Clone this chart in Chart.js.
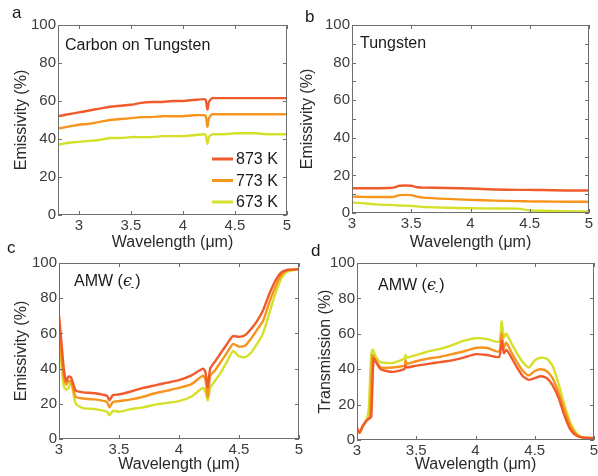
<!DOCTYPE html>
<html>
<head>
<meta charset="utf-8">
<script src="https://cdn.jsdelivr.net/npm/chart.js@4.4.0/dist/chart.umd.min.js"></script>
<style>
  body { margin: 0; background: #fff; width: 598px; height: 476px; position: relative; overflow: hidden; }
  .panel { position: absolute; }
</style>
</head>
<body>
<div class="panel" style="left:0;top:0;width:300px;height:252px"><canvas id="chartA"></canvas></div>
<div class="panel" style="left:298px;top:0;width:300px;height:252px"><canvas id="chartB"></canvas></div>
<div class="panel" style="left:0;top:236px;width:312px;height:238px"><canvas id="chartC"></canvas></div>
<div class="panel" style="left:298px;top:236px;width:300px;height:238px"><canvas id="chartD"></canvas></div>
<script>
const tempLabels = ["873 K", "773 K", "673 K"];
const yTicks = [0, 20, 40, 60, 80, 100];
const xTicks = [3, 3.5, 4, 4.5, 5];

// a: carbon on tungsten
const wlA = [2.8, 2.9, 3.0, 3.1, 3.2, 3.3, 3.4, 3.5, 3.6, 3.7, 3.8, 3.9, 4.0, 4.1, 4.2, 4.22, 4.235, 4.25, 4.28, 4.3, 4.4, 4.5, 4.6, 4.7, 4.8, 4.9, 5.0];
const carbon873 = [52, 53, 54, 55, 56, 57, 57.5, 58, 59, 59.5, 59.5, 60, 60, 60.5, 61, 60.5, 55.5, 59.5, 61.5, 61.5, 61.5, 61.5, 61.5, 61.5, 61.5, 61.5, 61.5];
const carbon773 = [45.5, 46.5, 47.5, 48, 49, 50, 50.5, 51, 51.5, 51.5, 52, 52, 52, 52.5, 52.5, 52, 46.5, 51, 53, 53, 53, 53, 53, 53, 53, 53, 53];
const carbon673 = [37, 38, 38.5, 39, 39.5, 40.5, 40.5, 41, 41, 41, 41.5, 41.5, 41.5, 42, 42.5, 42, 37.5, 41, 42.5, 42.5, 42.5, 43, 43, 43, 42.5, 42.5, 42.5];

// b: bare tungsten
const wlB = [3.0, 3.1, 3.2, 3.3, 3.35, 3.4, 3.5, 3.55, 3.6, 3.8, 4.0, 4.2, 4.4, 4.5, 4.6, 4.8, 5.0];
const tungsten873 = [13.2, 13.2, 13.2, 13.3, 13.5, 14.5, 14.5, 13.7, 13.5, 13.3, 13, 12.5, 12.3, 12.3, 12.2, 12, 12];
const tungsten773 = [8.7, 8.6, 8.5, 8.5, 8.6, 9.5, 9.5, 8.7, 8.2, 7.5, 7, 6.6, 6.3, 6.2, 6.1, 6, 6];
const tungsten673 = [5.6, 5.2, 4.6, 4.3, 4.2, 4.0, 3.8, 3.5, 3.2, 2.8, 2.5, 2.4, 2.3, 1.3, 1.2, 0.9, 0.8];

// c: AMW emissivity
const wlC = [3.0, 3.02, 3.04, 3.06, 3.08, 3.1, 3.12, 3.14, 3.2, 3.3, 3.4, 3.42, 3.45, 3.5, 3.6, 3.7, 3.8, 3.9, 4.0, 4.1, 4.2, 4.22, 4.24, 4.26, 4.3, 4.35, 4.4, 4.45, 4.5, 4.55, 4.6, 4.65, 4.7, 4.75, 4.8, 4.85, 4.9, 5.0];
const amwEmis873 = [70.5, 55, 40, 33, 35.5, 35, 31, 27.5, 26.5, 26, 24.5, 22, 25, 25.3, 27, 29, 30.5, 32, 33.5, 36, 40, 38, 29.5, 40, 44, 49, 54, 58.5, 58, 59, 62.5, 67, 73, 82, 89.5, 94.5, 96, 96.5];
const amwEmis773 = [65, 48, 35, 31, 33, 32.5, 28, 24, 23, 22.5, 21, 18, 21, 21.5, 22.5, 24, 26, 27.5, 29, 31, 36, 34, 24, 36, 39, 44, 49, 54, 52.5, 53, 57, 62, 67, 77, 86, 93, 96, 96.5];
const amwEmis673 = [62, 42, 30, 28, 29, 33, 26, 20, 17.5, 17, 15.5, 13.5, 16, 15.5, 17, 18, 19.5, 20.5, 21.5, 24, 29, 27, 22, 29, 33, 38, 44, 50, 47, 46.5, 49, 54, 60, 71, 82, 91, 95, 96.5];

// d: AMW transmission
const wlD = [3.0, 3.02, 3.05, 3.08, 3.1, 3.11, 3.12, 3.13, 3.14, 3.16, 3.2, 3.3, 3.4, 3.41, 3.42, 3.5, 3.6, 3.7, 3.8, 3.9, 4.0, 4.1, 4.2, 4.22, 4.24, 4.26, 4.3, 4.35, 4.4, 4.45, 4.5, 4.55, 4.6, 4.65, 4.7, 4.75, 4.8, 4.85, 4.9, 5.0];
const amwTrans873 = [7, 4, 8, 11, 12, 12.5, 13, 30, 46, 44, 40, 38.5, 40, 42, 41, 42, 43, 44, 45, 46.5, 48.5, 48, 47, 56, 49, 51, 47, 41, 36, 34, 35, 36, 35, 31, 24, 14, 6, 2.5, 1.5, 1];
const amwTrans773 = [5, 4.5, 8, 11, 12, 14, 30, 48, 47, 45, 41, 41, 42, 45, 43, 44.5, 46, 47, 48.5, 50, 52, 52, 50, 60, 52, 55, 50, 44, 39, 36.5, 39, 40, 39, 35, 27, 17, 8, 3, 1.5, 1];
const amwTrans673 = [5, 4, 8, 11, 18, 35, 48, 51, 50, 47, 44, 43.5, 46, 48, 46.5, 48, 50, 51.5, 53.5, 56, 57.5, 57, 55.5, 67, 58, 60, 55, 49, 44, 41, 45, 46.5, 46, 42, 32, 20, 10, 4, 1.5, 1];

const lineColors = ["#f15a2b", "#f7941e", "#d5e02b"];
const FONT = '"Liberation Sans", Arial, sans-serif';
const frameColor = "#6e6e6e";

// box round the plot, inward ticks, panel letter, note and legend
const framePlugin = {
  id: "frame",
  afterDraw(chart, args, o) {
    const { ctx, chartArea: a, scales } = chart;
    ctx.save();
    ctx.strokeStyle = frameColor;
    ctx.lineWidth = 1;
    ctx.strokeRect(a.left + 0.5, a.top + 0.5, a.right - a.left - 1, a.bottom - a.top - 1);
    ctx.beginPath();
    const tl = 4;
    scales.x.ticks.forEach((t) => {
      const px = Math.round(scales.x.getPixelForValue(t.value)) + 0.5;
      ctx.moveTo(px, a.bottom); ctx.lineTo(px, a.bottom - tl);
      ctx.moveTo(px, a.top); ctx.lineTo(px, a.top + tl);
    });
    const yVals = [];
    if (o.minorY) {
      for (let v = 0; v <= 100; v += o.minorY) yVals.push(v);
    } else {
      scales.y.ticks.forEach((t) => yVals.push(t.value));
    }
    yVals.forEach((v) => {
      const py = Math.round(scales.y.getPixelForValue(v)) + 0.5;
      ctx.moveTo(a.left, py); ctx.lineTo(a.left + tl, py);
      ctx.moveTo(a.right, py); ctx.lineTo(a.right - tl, py);
    });
    ctx.stroke();

    // panel letter
    ctx.fillStyle = "#1a1a1a";
    ctx.font = "17px " + FONT;
    ctx.textBaseline = "alphabetic";
    ctx.textAlign = "left";
    ctx.fillText(o.letter, o.letterX, o.letterY);

    // note inside plot
    const nx = a.left + o.noteDx, ny = a.top + o.noteDy;
    ctx.font = "16px " + FONT;
    if (o.eps) {
      let x = nx;
      ctx.fillText("AMW (", x, ny);
      x += ctx.measureText("AMW (").width;
      ctx.font = 'italic 16px "DejaVu Serif"';
      ctx.fillText("\u03f5", x, ny);
      x += ctx.measureText("\u03f5").width;
      ctx.font = "10px " + FONT;
      ctx.fillText("-", x - 1, ny + 4);
      x += ctx.measureText("-").width;
      ctx.font = "16px " + FONT;
      ctx.fillText(")", x, ny);
    } else {
      ctx.fillText(o.note, nx, ny);
    }

    // legend, bottom right
    if (o.legend) {
      chart.data.datasets.forEach((ds, i) => {
        const y = a.bottom - 56 + i * 21.5;
        ctx.strokeStyle = ds.borderColor;
        ctx.lineWidth = 3;
        ctx.beginPath();
        ctx.moveTo(a.right - 75, y);
        ctx.lineTo(a.right - 54, y);
        ctx.stroke();
        ctx.fillStyle = "#1a1a1a";
        ctx.font = "16px " + FONT;
        ctx.textBaseline = "middle";
        ctx.fillText(ds.label, a.right - 51, y + 1);
      });
    }
    ctx.restore();
  },
};

function makePanel(id, wl, series, xMin, yTitle, pad, yWidth, xHeight, frame) {
  return new Chart(document.getElementById(id), {
    type: "line",
    data: {
      datasets: series.map((vals, i) => ({
        label: tempLabels[i],
        data: wl.map((w, k) => ({ x: w, y: vals[k] })),
        borderColor: lineColors[i],
        borderWidth: 2.4,
        pointRadius: 0,
        fill: false,
        tension: 0.2,
      })),
    },
    options: {
      responsive: true,
      maintainAspectRatio: false,
      animation: false,
      layout: { padding: pad },
      scales: {
        x: {
          type: "linear",
          min: xMin,
          max: 5,
          afterBuildTicks: (s) => { s.ticks = xTicks.map((v) => ({ value: v })); },
          afterFit: (s) => { s.height = xHeight; s.paddingLeft = 0; s.paddingRight = 0; },
          grid: { display: false, drawTicks: false },
          border: { display: false },
          ticks: {
            padding: 2, color: "#3c3c3c", font: { family: FONT, size: 15 }, maxRotation: 0,
            callback: (v) => String(v),
          },
          title: { display: true, text: "Wavelength (\u03bcm)", color: "#2a2a2a", padding: 0, font: { family: FONT, size: 16 } },
        },
        y: {
          min: 0,
          max: 100,
          afterBuildTicks: (s) => { s.ticks = yTicks.map((v) => ({ value: v })); },
          afterFit: (s) => { s.width = yWidth; s.paddingTop = 0; s.paddingBottom = 0; },
          grid: { display: false, drawTicks: false },
          border: { display: false },
          ticks: { padding: 2, color: "#3c3c3c", font: { family: FONT, size: 15 } },
          title: { display: true, text: yTitle, color: "#2a2a2a", padding: 0, font: { family: FONT, size: 16 } },
        },
      },
      plugins: {
        legend: { display: false },
        tooltip: { enabled: false },
        frame: frame,
      },
    },
    plugins: [framePlugin],
  });
}

makePanel("chartA", wlA, [carbon873, carbon773, carbon673], 2.8, "Emissivity (%)",
  { left: 12, top: 25, right: 13, bottom: 0 }, 46, 37,
  { letter: "a", letterX: 12, letterY: 18, note: "Carbon on Tungsten", noteDx: 7, noteDy: 25, legend: true });

makePanel("chartB", wlB, [tungsten873, tungsten773, tungsten673], 3, "Emissivity (%)",
  { left: 0, top: 25, right: 9, bottom: 0 }, 54, 39,
  { letter: "b", letterX: 7, letterY: 22, note: "Tungsten", noteDx: 8, noteDy: 23, minorY: 10 });

makePanel("chartC", wlC, [amwEmis873, amwEmis773, amwEmis673], 3, "Emissivity (%)",
  { left: 12, top: 27, right: 13, bottom: 0 }, 47, 35,
  { letter: "c", letterX: 7, letterY: 17, noteDx: 15, noteDy: 23, eps: true });

makePanel("chartD", wlD, [amwTrans873, amwTrans773, amwTrans673], 3, "Transmission (%)",
  { left: 18, top: 27, right: 4, bottom: 0 }, 41, 34,
  { letter: "d", letterX: 13, letterY: 20, noteDx: 21, noteDy: 27, eps: true });
</script>
</body>
</html>
